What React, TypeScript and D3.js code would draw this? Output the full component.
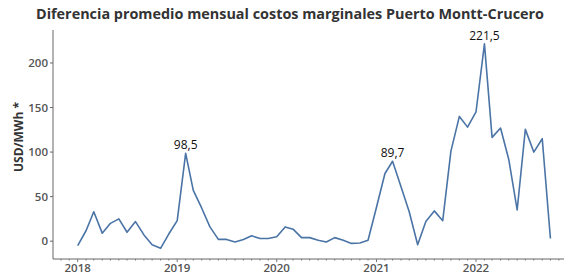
import React, { useEffect, useRef } from "react";
import * as d3 from "d3";

const years = [2018, 2019, 2020, 2021, 2022];
const values2018 = [-5, 12, 33, 9, 20, 25, 10, 22, 7, -4, -8, 8];
const values2019 = [23, 98.5, 57, 37, 16, 2, 2, -1, 2, 6, 3, 3];
const values2020 = [5, 16, 13.5, 4, 4, 1, -1, 4, 1, -2.5, -2, 1];
const values2021 = [38, 76, 89.7, 61, 33, -4, 22, 34, 23, 101, 140, 128];
const values2022 = [145, 221.5, 116.5, 127, 92, 35, 125.5, 100, 115, 3];
const yTicks = [0, 50, 100, 150, 200];
const peakLabels = ["98,5", "89,7", "221,5"];
const peakIndex = [13, 38, 49];

const W = 564;
const H = 274;
const FONT = "'Open Sans', 'DejaVu Sans', sans-serif";

const App = () => {
  const ref = useRef<SVGSVGElement>(null);

  useEffect(() => {
    const all = [values2018, values2019, values2020, values2021, values2022];
    const data = all.flatMap((arr, yi) =>
      arr.map((v, m) => ({ date: new Date(years[yi], m, 1), value: v }))
    );

    const svg = d3.select(ref.current);
    svg.selectAll("*").remove();

    const x = d3
      .scaleTime()
      .domain([new Date(2018, 0, 1), new Date(2022, 0, 1)])
      .range([77.7, 476]);
    const y = d3.scaleLinear().domain([-20, 237]).range([259, 30]);

    const axisLeft = 53;
    const axisBottom = 259;

    // title
    svg
      .append("text")
      .attr("x", 290)
      .attr("y", 19)
      .attr("text-anchor", "middle")
      .attr("font-family", FONT)
      .attr("font-weight", "bold")
      .attr("font-size", 14.4)
      .attr("fill", "#333")
      .text("Diferencia promedio mensual costos marginales Puerto Montt-Crucero");

    // y axis
    const gy = svg.append("g").attr("transform", `translate(${axisLeft},0)`);
    gy.append("line")
      .attr("y1", 30)
      .attr("y2", axisBottom)
      .attr("stroke", "#666")
      .attr("stroke-width", 1);
    yTicks.forEach((t) => {
      gy.append("line")
        .attr("x1", -3)
        .attr("x2", 0)
        .attr("y1", y(t))
        .attr("y2", y(t))
        .attr("stroke", "#666");
      gy.append("text")
        .attr("x", -5)
        .attr("y", y(t))
        .attr("dy", "0.35em")
        .attr("text-anchor", "end")
        .attr("font-family", FONT)
        .attr("font-weight", 600)
        .attr("font-size", 11.5)
        .attr("fill", "#555")
        .text(t);
    });

    svg
      .append("text")
      .attr("transform", `translate(23,137) rotate(-90)`)
      .attr("text-anchor", "middle")
      .attr("font-family", FONT)
      .attr("font-weight", "bold")
      .attr("font-size", 12)
      .attr("fill", "#333")
      .text("USD/MWh *");

    // x axis
    const gx = svg.append("g");
    gx.append("line")
      .attr("x1", axisLeft)
      .attr("x2", W)
      .attr("y1", axisBottom)
      .attr("y2", axisBottom)
      .attr("stroke", "#666");
    const months = d3.timeMonth.range(x.invert(axisLeft), x.invert(W));
    gx.selectAll("line.minor")
      .data(months)
      .join("line")
      .attr("class", "minor")
      .attr("x1", (d) => x(d))
      .attr("x2", (d) => x(d))
      .attr("y1", axisBottom)
      .attr("y2", (d) => axisBottom + (d.getMonth() === 0 ? 3 : 1.5))
      .attr("stroke", "#777");
    gx.selectAll("text.year")
      .data(years)
      .join("text")
      .attr("class", "year")
      .attr("x", (d) => x(new Date(d, 0, 1)))
      .attr("y", 272)
      .attr("text-anchor", "middle")
      .attr("font-family", FONT)
      .attr("font-weight", 600)
      .attr("font-size", 11.5)
      .attr("fill", "#555")
      .text((d) => d);

    // line
    const line = d3
      .line<{ date: Date; value: number }>()
      .x((d) => x(d.date))
      .y((d) => y(d.value));
    svg
      .append("path")
      .datum(data)
      .attr("d", line)
      .attr("fill", "none")
      .attr("stroke", "#4a74a6")
      .attr("stroke-width", 1.6)
      .attr("stroke-linejoin", "round");

    // peak labels
    peakIndex.forEach((idx, i) => {
      const d = data[idx];
      svg
        .append("text")
        .attr("x", x(d.date))
        .attr("y", y(d.value) - 4)
        .attr("text-anchor", "middle")
        .attr("font-family", FONT)
        .attr("font-size", 12)
        .attr("fill", "#111")
        .text(peakLabels[i]);
    });
  }, []);

  return (
    <svg
      ref={ref}
      width={W}
      height={H}
      style={{ position: "absolute", left: 0, top: 0, background: "#fff" }}
    />
  );
};

export default App;
